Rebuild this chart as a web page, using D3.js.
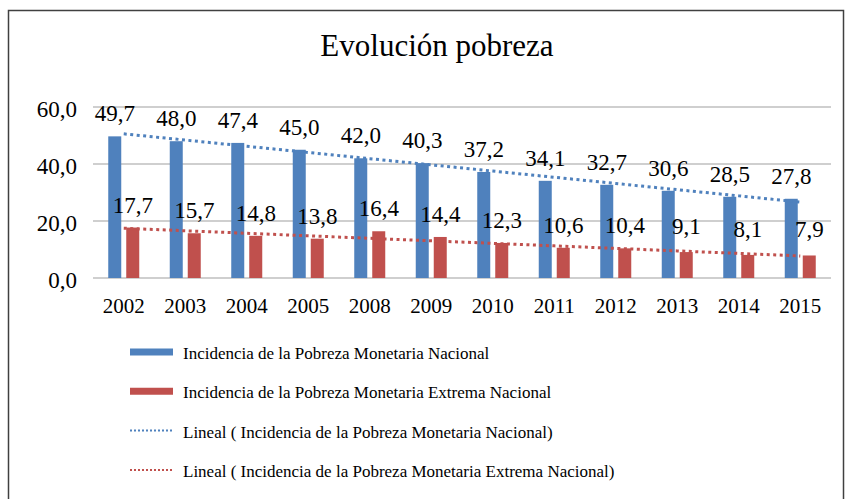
<!DOCTYPE html>
<html>
<head>
<meta charset="utf-8">
<script src="https://cdn.jsdelivr.net/npm/d3@7"></script>
<style>
  body { margin: 0; background: #fff; }
</style>
</head>
<body>
<div id="chart"></div>
<script>
const years = ['2002', '2003', '2004', '2005', '2008', '2009', '2010', '2011', '2012', '2013', '2014', '2015'];
const pobreza = [49.7, 48.0, 47.4, 45.0, 42.0, 40.3, 37.2, 34.1, 32.7, 30.6, 28.5, 27.8];
const extrema = [17.7, 15.7, 14.8, 13.8, 16.4, 14.4, 12.3, 10.6, 10.4, 9.1, 8.1, 7.9];
const yTicks = [0, 20, 40, 60];
const seriesNames = [
  'Incidencia de la Pobreza Monetaria Nacional',
  'Incidencia de la Pobreza Monetaria Extrema Nacional'
];

const width = 856;
const height = 499;
const FONT = '"Liberation Serif", "Times New Roman", serif';
const BLUE = '#4f81bd';
const RED = '#c0504d';
const fmt = (v) => d3.format('.1f')(v).replace('.', ',');

const svg = d3.select('#chart')
  .append('svg')
  .attr('width', width)
  .attr('height', height);

// chart frame
svg.append('rect')
  .attr('x', 8.5)
  .attr('y', 10.5)
  .attr('width', 835)
  .attr('height', 500)
  .attr('fill', '#fff')
  .attr('stroke', '#404040')
  .attr('stroke-width', 1.5);

svg.append('text')
  .attr('x', 437)
  .attr('y', 56)
  .attr('text-anchor', 'middle')
  .style('font-family', FONT)
  .style('font-size', '31px')
  .text('Evolución pobreza');

const x = d3.scaleBand()
  .domain(years)
  .range([93, 831]);

const y = d3.scaleLinear()
  .domain([0, 60])
  .range([278, 107]);

const BAR_W = 13;
const BAR_GAP = 5;

// gridlines
svg.append('g')
  .selectAll('line')
  .data(yTicks)
  .enter().append('line')
    .attr('x1', 93)
    .attr('x2', 831)
    .attr('y1', (d) => y(d))
    .attr('y2', (d) => y(d))
    .attr('stroke', '#bfbfbf')
    .attr('stroke-width', 1.5);

// y axis labels
const yAxis = svg.append('g')
  .attr('transform', 'translate(77,0)')
  .call(d3.axisLeft(y).tickValues(yTicks).tickSize(0).tickPadding(0).tickFormat(fmt));
yAxis.select('.domain').remove();
yAxis.selectAll('text')
  .attr('dy', 9)
  .style('font-family', FONT)
  .style('font-size', '23px')
  .attr('fill', '#000');

// x axis labels
const xAxis = svg.append('g')
  .attr('transform', 'translate(0,313)')
  .call(d3.axisBottom(x).tickSize(0).tickPadding(0));
xAxis.select('.domain').remove();
xAxis.selectAll('text')
  .attr('dy', 0)
  .style('font-family', FONT)
  .style('font-size', '21px')
  .attr('fill', '#000');

const cx = (d) => x(d) + x.bandwidth() / 2;

const series = [
  { values: pobreza, color: BLUE, offset: -(BAR_W + BAR_GAP / 2) },
  { values: extrema, color: RED, offset: BAR_GAP / 2 }
];

series.forEach((s) => {
  svg.append('g')
    .selectAll('rect')
    .data(years)
    .enter().append('rect')
      .attr('x', (d) => cx(d) + s.offset)
      .attr('y', (d, i) => y(s.values[i]))
      .attr('width', BAR_W)
      .attr('height', (d, i) => y(0) - y(s.values[i]))
      .attr('fill', s.color);
});

// linear trend lines (least squares over category index)
const trend = (vals) => {
  const n = vals.length;
  const xs = d3.range(1, n + 1);
  const mx = d3.mean(xs);
  const my = d3.mean(vals);
  const b = d3.sum(xs, (xi, i) => (xi - mx) * (vals[i] - my)) / d3.sum(xs, (xi) => (xi - mx) ** 2);
  const a = my - b * mx;
  return xs.map((xi) => a + b * xi);
};

const line = d3.line()
  .x((d, i) => cx(years[i]))
  .y((d) => y(d));

series.forEach((s) => {
  svg.append('path')
    .datum(trend(s.values))
    .attr('d', line)
    .attr('fill', 'none')
    .attr('stroke', s.color)
    .attr('stroke-width', 3)
    .attr('stroke-dasharray', '3,3.5');
});

// data labels (small values sit a little higher)
series.forEach((s) => {
  svg.append('g')
    .selectAll('text')
    .data(years)
    .enter().append('text')
      .attr('x', (d) => cx(d) + s.offset + BAR_W / 2)
      .attr('y', (d, i) => y(s.values[i]) - (s.values[i] < 10 ? 18 : 15))
      .attr('text-anchor', 'middle')
      .style('font-family', FONT)
      .style('font-size', '23px')
      .text((d, i) => fmt(s.values[i]));
});

// legend
const legendItems = [
  { name: seriesNames[0], color: BLUE, dotted: false },
  { name: seriesNames[1], color: RED, dotted: false },
  { name: 'Lineal ( ' + seriesNames[0] + ')', color: BLUE, dotted: true },
  { name: 'Lineal ( ' + seriesNames[1] + ')', color: RED, dotted: true }
];

const legend = svg.append('g')
  .selectAll('g')
  .data(legendItems)
  .enter().append('g')
    .attr('transform', (d, i) => `translate(130, ${352 + i * 39.3})`);

legend.append('line')
  .attr('x1', 0)
  .attr('x2', 43)
  .attr('stroke', (d) => d.color)
  .attr('stroke-width', (d) => d.dotted ? 2 : 7)
  .attr('stroke-dasharray', (d) => d.dotted ? '2,2' : null);

legend.append('text')
  .attr('x', 53)
  .attr('y', 7)
  .style('font-family', FONT)
  .style('font-size', '17px')
  .text((d) => d.name);
</script>
</body>
</html>
